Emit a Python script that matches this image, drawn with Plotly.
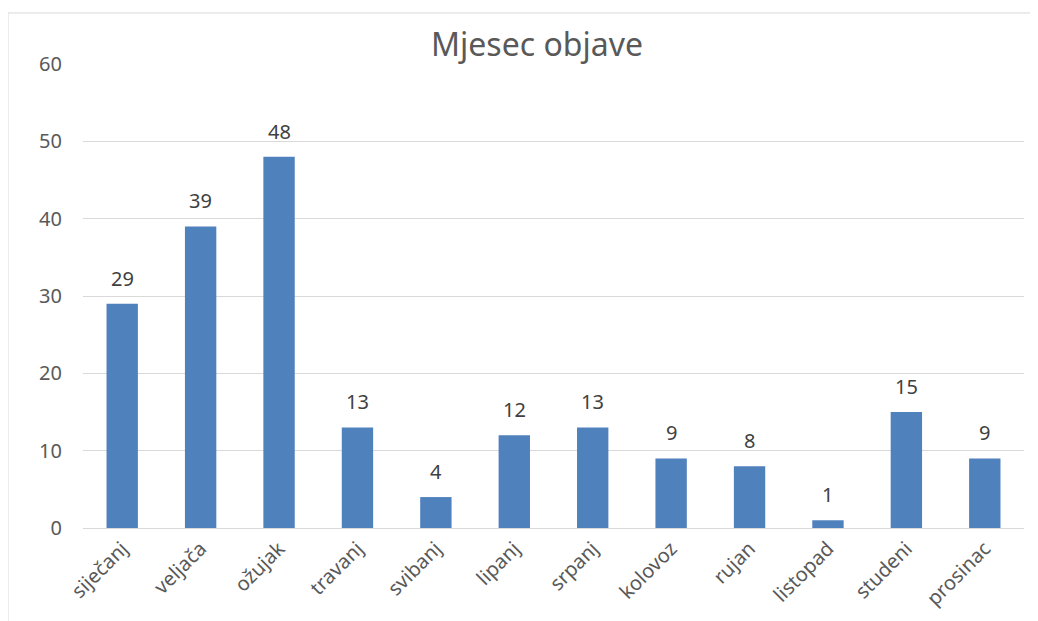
import plotly.graph_objects as go

months = ["siječanj", "veljača", "ožujak", "travanj", "svibanj", "lipanj",
          "srpanj", "kolovoz", "rujan", "listopad", "studeni", "prosinac"]
counts = [29, 39, 48, 13, 4, 12, 13, 9, 8, 1, 15, 9]

font = "Noto Sans, Open Sans, sans-serif"

fig = go.Figure(
    go.Bar(
        x=months,
        y=counts,
        marker=dict(color="#4F81BD", line=dict(width=0)),
        hoverinfo="x+y",
    )
)

# value labels sit a bit higher above the bars, like Excel does
for m, c in zip(months, counts):
    fig.add_annotation(x=m, y=c, text=str(c), showarrow=False,
                       yanchor="bottom", yshift=10,
                       font=dict(size=20, color="#404040", family=font))

# the page has an 8px body margin, so the figure is 8px smaller
fig.update_layout(
    width=1030,
    height=613,
    margin=dict(l=75, r=14, t=56, b=93),
    paper_bgcolor="white",
    plot_bgcolor="white",
    bargap=0.6,
    showlegend=False,
    title=dict(text="Mjesec objave", x=0.5136, xanchor="center", y=0.94, yanchor="middle",
               font=dict(size=32, color="#595959", family=font)),
    font=dict(family=font, color="#595959"),
    shapes=[dict(type="rect", xref="paper", yref="paper",
                 x0=-0.0797, x1=1.0138, y0=-0.3, y1=1.11,
                 line=dict(color="#D9D9D9", width=1), layer="below")],
)

fig.update_xaxes(
    tickangle=-45,
    tickfont=dict(size=20, color="#595959"),
    showline=True, linecolor="#D9D9D9", linewidth=1,
    ticks="", showgrid=False, automargin=False,
)
fig.update_yaxes(
    range=[0, 60],
    dtick=10,
    tickfont=dict(size=20, color="#595959"),
    showgrid=True, gridcolor="#D9D9D9", gridwidth=1,
    zeroline=False, ticks="", automargin=False,
    ticklabelstandoff=20,
)

fig.write_html("out.html")
